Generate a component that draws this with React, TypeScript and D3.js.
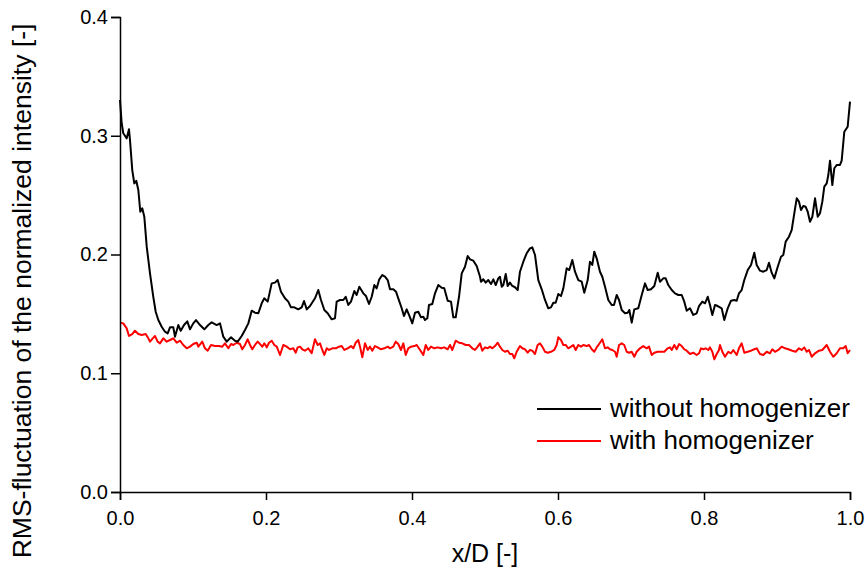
import { useEffect, useRef } from "react";
import * as d3 from "d3";

// without homogenizer (x/D, RMS)
const withoutX = [
  0, 0.0023, 0.0045, 0.0092, 0.0123, 0.0137, 0.0168, 0.0196, 0.0223, 0.0251, 0.0278, 0.0305, 0.0333, 0.0366,
  0.0411, 0.0456, 0.0489, 0.0525, 0.0571, 0.0616, 0.0653, 0.0685, 0.073, 0.0753, 0.0799, 0.0832, 0.0877, 0.0922,
  0.0959, 0.1004, 0.1041, 0.1096, 0.1155, 0.121, 0.1256, 0.1325, 0.137, 0.1415, 0.1462, 0.1521, 0.1575, 0.1612,
  0.1667, 0.1712, 0.1758, 0.1804, 0.1849, 0.1895, 0.1941, 0.1977, 0.2023, 0.2078, 0.2123, 0.216, 0.2205, 0.226,
  0.2305, 0.2342, 0.2388, 0.2442, 0.2489, 0.2521, 0.2558, 0.2603, 0.2671, 0.2716, 0.2753, 0.2799, 0.2845, 0.29,
  0.2945, 0.2968, 0.3014, 0.3059, 0.3092, 0.3127, 0.3164, 0.321, 0.3242, 0.3278, 0.3333, 0.337, 0.3411, 0.3448,
  0.3484, 0.3516, 0.3552, 0.3593, 0.363, 0.3667, 0.3699, 0.3744, 0.3781, 0.3812, 0.3859, 0.389, 0.3927, 0.3959,
  0.4004, 0.4041, 0.4086, 0.4123, 0.4155, 0.4178, 0.421, 0.4233, 0.4278, 0.4315, 0.436, 0.4407, 0.4442, 0.4489,
  0.4534, 0.4566, 0.4599, 0.4644, 0.4681, 0.4726, 0.4763, 0.4795, 0.484, 0.4886, 0.4932, 0.4945, 0.4977, 0.501,
  0.5045, 0.5082, 0.5114, 0.5147, 0.5182, 0.5205, 0.5229, 0.5251, 0.5284, 0.5311, 0.5342, 0.5374, 0.5411, 0.5448,
  0.5479, 0.5525, 0.5571, 0.5616, 0.5648, 0.5685, 0.573, 0.5777, 0.5822, 0.5867, 0.5904, 0.5936, 0.5968, 0.6004,
  0.6041, 0.6073, 0.6119, 0.6155, 0.6196, 0.6233, 0.6278, 0.6325, 0.636, 0.6407, 0.6438, 0.647, 0.6497, 0.653,
  0.6575, 0.6607, 0.6644, 0.6689, 0.6736, 0.6767, 0.6804, 0.6836, 0.6873, 0.6918, 0.6955, 0.6977, 0.701, 0.7045,
  0.71, 0.7147, 0.7192, 0.7229, 0.7274, 0.7319, 0.7366, 0.7397, 0.7442, 0.7475, 0.7511, 0.7558, 0.7603, 0.7648,
  0.7695, 0.773, 0.7763, 0.7808, 0.7853, 0.79, 0.7932, 0.7977, 0.8014, 0.8051, 0.8082, 0.8114, 0.8151, 0.8188,
  0.8219, 0.8242, 0.8278, 0.8325, 0.837, 0.8415, 0.8448, 0.8479, 0.8516, 0.8552, 0.8599, 0.8644, 0.8689, 0.8722,
  0.8767, 0.8812, 0.8859, 0.889, 0.8927, 0.8963, 0.901, 0.9055, 0.9086, 0.9119, 0.9164, 0.9201, 0.9237, 0.927,
  0.9301, 0.9329, 0.936, 0.9393, 0.9421, 0.9452, 0.9484, 0.9521, 0.9558, 0.9589, 0.9621, 0.9648, 0.9681, 0.9703,
  0.9726, 0.9758, 0.9785, 0.9818, 0.9863, 0.9886, 0.9922, 0.9968, 1.0,
];
const withoutY = [
  0.3301, 0.3105, 0.3021, 0.2978, 0.3054, 0.2964, 0.2711, 0.2599, 0.2621, 0.2543, 0.236, 0.2389, 0.2318, 0.2066,
  0.1841, 0.1644, 0.1518, 0.1448, 0.1392, 0.135, 0.1336, 0.1387, 0.1387, 0.1308, 0.1406, 0.1358, 0.1406, 0.1437,
  0.137, 0.142, 0.1448, 0.1406, 0.137, 0.1406, 0.1429, 0.1406, 0.142, 0.1308, 0.1266, 0.1303, 0.1274, 0.1266,
  0.1314, 0.1364, 0.142, 0.1527, 0.151, 0.1505, 0.1589, 0.1631, 0.1603, 0.1757, 0.1763, 0.1785, 0.1687, 0.1631,
  0.1603, 0.1555, 0.1555, 0.1538, 0.1555, 0.1608, 0.1538, 0.1566, 0.1631, 0.1701, 0.1617, 0.1533, 0.1505, 0.1454,
  0.1463, 0.1603, 0.1617, 0.1617, 0.1644, 0.1575, 0.1603, 0.1693, 0.1659, 0.1729, 0.1673, 0.165, 0.1583, 0.1644,
  0.1743, 0.1715, 0.1791, 0.1827, 0.1813, 0.1785, 0.1707, 0.1707, 0.1687, 0.1631, 0.1547, 0.1482, 0.1538, 0.1491,
  0.142, 0.151, 0.1518, 0.1471, 0.1476, 0.1448, 0.1463, 0.1575, 0.1583, 0.1673, 0.1743, 0.172, 0.1715, 0.1611,
  0.1603, 0.1471, 0.1471, 0.1644, 0.1841, 0.1897, 0.1987, 0.1959, 0.1948, 0.1903, 0.1813, 0.1771, 0.1791, 0.1763,
  0.1785, 0.1751, 0.1791, 0.1743, 0.1799, 0.1813, 0.1729, 0.1743, 0.1836, 0.1735, 0.1763, 0.1735, 0.1724, 0.1701,
  0.1855, 0.1939, 0.201, 0.2052, 0.206, 0.1996, 0.1785, 0.1707, 0.1617, 0.1547, 0.1555, 0.1594, 0.1594, 0.1667,
  0.165, 0.1715, 0.1884, 0.1869, 0.1954, 0.1855, 0.1785, 0.1771, 0.1678, 0.1785, 0.1939, 0.1912, 0.2024, 0.1968,
  0.1855, 0.1813, 0.1729, 0.1617, 0.1575, 0.1575, 0.1659, 0.1617, 0.1533, 0.1505, 0.151, 0.1533, 0.1426, 0.1538,
  0.1547, 0.1659, 0.1757, 0.1701, 0.1707, 0.1735, 0.1847, 0.1771, 0.1799, 0.1799, 0.1743, 0.1701, 0.1673, 0.1659,
  0.1659, 0.1603, 0.1527, 0.1547, 0.1491, 0.1505, 0.1566, 0.1603, 0.1589, 0.1644, 0.1575, 0.1491, 0.1575, 0.1566,
  0.1555, 0.1547, 0.1448, 0.1547, 0.1611, 0.1617, 0.1611, 0.1673, 0.1701, 0.1785, 0.1869, 0.1912, 0.2015, 0.1912,
  0.1864, 0.1855, 0.1869, 0.1931, 0.1847, 0.1799, 0.1897, 0.1981, 0.1996, 0.2108, 0.215, 0.2206, 0.2347, 0.2473,
  0.2445, 0.2375, 0.2408, 0.2402, 0.236, 0.2276, 0.2318, 0.2473, 0.2318, 0.2347, 0.2445, 0.2571, 0.2599, 0.2669,
  0.279, 0.2585, 0.2726, 0.2754, 0.2754, 0.279, 0.3034, 0.3076, 0.3287,
];

// with homogenizer (x/D, RMS)
const withX = [
  0, 0.0045, 0.0092, 0.0123, 0.0168, 0.0205, 0.0251, 0.0297, 0.0352, 0.0388, 0.0411, 0.0448, 0.0479, 0.0516,
  0.0548, 0.0593, 0.064, 0.0685, 0.073, 0.0777, 0.0822, 0.0867, 0.0914, 0.0959, 0.1004, 0.1051, 0.1073, 0.1127,
  0.1164, 0.1201, 0.1247, 0.1301, 0.1356, 0.1401, 0.1438, 0.1484, 0.1521, 0.1552, 0.1599, 0.1644, 0.1675, 0.1712,
  0.1749, 0.1781, 0.1812, 0.1849, 0.1886, 0.1918, 0.1949, 0.1977, 0.201, 0.2041, 0.2078, 0.2114, 0.2147, 0.2192,
  0.2237, 0.2284, 0.2329, 0.2374, 0.2407, 0.2434, 0.2466, 0.2497, 0.2534, 0.2579, 0.2626, 0.2671, 0.2708, 0.274,
  0.2771, 0.2799, 0.2832, 0.2863, 0.2908, 0.2955, 0.3, 0.3037, 0.3073, 0.3119, 0.3164, 0.3196, 0.3229, 0.3264,
  0.3288, 0.3319, 0.3356, 0.3393, 0.3425, 0.3456, 0.3493, 0.353, 0.3575, 0.3621, 0.3667, 0.3699, 0.3744, 0.3777,
  0.3812, 0.3849, 0.3881, 0.3914, 0.3949, 0.3986, 0.4032, 0.4064, 0.411, 0.4155, 0.4188, 0.4223, 0.426, 0.4305,
  0.4352, 0.4397, 0.4442, 0.4489, 0.4521, 0.4552, 0.4599, 0.4644, 0.4689, 0.4736, 0.4781, 0.4826, 0.4863, 0.49,
  0.4932, 0.4963, 0.5, 0.5037, 0.5068, 0.51, 0.5137, 0.5174, 0.5205, 0.5237, 0.5274, 0.5311, 0.5342, 0.5374,
  0.5401, 0.5434, 0.5479, 0.5511, 0.5548, 0.5585, 0.5616, 0.5648, 0.5685, 0.5721, 0.5753, 0.5785, 0.5822, 0.5859,
  0.5904, 0.5949, 0.5982, 0.6004, 0.6041, 0.6073, 0.6105, 0.6141, 0.6178, 0.621, 0.6242, 0.6278, 0.6315, 0.6347,
  0.6393, 0.6425, 0.6462, 0.6497, 0.653, 0.6575, 0.6607, 0.6644, 0.6681, 0.6712, 0.6744, 0.6781, 0.6804, 0.6836,
  0.6873, 0.6908, 0.6941, 0.6973, 0.701, 0.7045, 0.7078, 0.7123, 0.7168, 0.7215, 0.7247, 0.7284, 0.7319, 0.7366,
  0.7411, 0.7456, 0.7503, 0.7534, 0.7558, 0.7593, 0.7626, 0.7658, 0.7695, 0.773, 0.7763, 0.7808, 0.7853, 0.79,
  0.7932, 0.7959, 0.799, 0.8023, 0.8059, 0.8082, 0.8114, 0.8141, 0.8174, 0.8205, 0.8219, 0.8251, 0.8288, 0.8333,
  0.837, 0.8401, 0.8448, 0.8479, 0.8516, 0.8552, 0.8599, 0.8644, 0.8689, 0.8722, 0.8767, 0.8812, 0.8859, 0.8904,
  0.8936, 0.8973, 0.9018, 0.9064, 0.911, 0.9155, 0.921, 0.9256, 0.9301, 0.9338, 0.9374, 0.9407, 0.9438, 0.9475,
  0.9521, 0.9575, 0.9621, 0.9681, 0.9726, 0.9771, 0.9818, 0.9863, 0.9908, 0.9941, 0.9968, 1.0,
];
const withY = [
  0.1426, 0.142, 0.1378, 0.1314, 0.133, 0.1358, 0.133, 0.1322, 0.133, 0.1294, 0.1266, 0.1294, 0.1314, 0.1266,
  0.1252, 0.1294, 0.1266, 0.128, 0.1294, 0.1257, 0.1274, 0.1238, 0.121, 0.1224, 0.1246, 0.1257, 0.1224, 0.1266,
  0.121, 0.119, 0.1238, 0.1229, 0.1229, 0.1224, 0.1252, 0.121, 0.1246, 0.1238, 0.1257, 0.1246, 0.1202, 0.1238,
  0.1286, 0.1238, 0.1202, 0.1238, 0.1266, 0.1246, 0.1224, 0.1252, 0.1218, 0.1257, 0.1274, 0.1238, 0.1224, 0.1154,
  0.1238, 0.1224, 0.1202, 0.121, 0.1173, 0.1218, 0.1224, 0.1202, 0.119, 0.121, 0.1168, 0.1286, 0.1238, 0.1252,
  0.1196, 0.1154, 0.121, 0.1196, 0.121, 0.121, 0.1224, 0.1229, 0.1196, 0.121, 0.1229, 0.121, 0.1257, 0.128,
  0.1224, 0.1134, 0.1252, 0.1196, 0.1224, 0.119, 0.1229, 0.1218, 0.1202, 0.121, 0.1224, 0.121, 0.1224, 0.1266,
  0.1246, 0.1196, 0.1252, 0.1154, 0.121, 0.1224, 0.1229, 0.1238, 0.1196, 0.1154, 0.1238, 0.1196, 0.1224, 0.121,
  0.1218, 0.121, 0.1218, 0.1202, 0.1238, 0.1196, 0.1274, 0.1257, 0.1252, 0.1238, 0.1238, 0.121, 0.1196, 0.1224,
  0.1252, 0.119, 0.1218, 0.121, 0.1224, 0.121, 0.1229, 0.1257, 0.1224, 0.1196, 0.1181, 0.119, 0.1162, 0.1162,
  0.1126, 0.1181, 0.1229, 0.121, 0.1202, 0.1173, 0.1196, 0.119, 0.1162, 0.1238, 0.1252, 0.1224, 0.1181, 0.1173,
  0.1181, 0.1196, 0.1238, 0.1303, 0.128, 0.1238, 0.1238, 0.121, 0.1224, 0.1238, 0.1196, 0.1238, 0.1224, 0.1238,
  0.1229, 0.1238, 0.1202, 0.1181, 0.1218, 0.1257, 0.1286, 0.121, 0.1218, 0.1202, 0.1196, 0.1181, 0.1139, 0.1238,
  0.1252, 0.1238, 0.1181, 0.1173, 0.1181, 0.1139, 0.1181, 0.121, 0.1229, 0.121, 0.1224, 0.1154, 0.1173, 0.1181,
  0.1181, 0.1181, 0.121, 0.1218, 0.1196, 0.1238, 0.1202, 0.1246, 0.1229, 0.1202, 0.119, 0.1162, 0.1173, 0.1154,
  0.1168, 0.121, 0.1202, 0.121, 0.1196, 0.1218, 0.1181, 0.1117, 0.1162, 0.1196, 0.1238, 0.1181, 0.1139, 0.1181,
  0.1168, 0.1196, 0.1154, 0.121, 0.1252, 0.1173, 0.1181, 0.119, 0.1202, 0.121, 0.1162, 0.1154, 0.1181, 0.1168,
  0.1202, 0.1181, 0.1196, 0.1224, 0.121, 0.1202, 0.119, 0.1181, 0.121, 0.1196, 0.1218, 0.1181, 0.1196, 0.1139,
  0.1168, 0.119, 0.1196, 0.1238, 0.1181, 0.1139, 0.1168, 0.121, 0.121, 0.1229, 0.1168, 0.1196,
];

const xTicks = [0, 0.2, 0.4, 0.6, 0.8, 1.0];
const yTicks = [0, 0.1, 0.2, 0.3, 0.4];
const legendLabels = ["without homogenizer", "with homogenizer"];
const seriesColors = ["#000000", "#ff0000"];

const FONT = "Arial, 'Liberation Sans', sans-serif";

function renderChart(element: SVGSVGElement) {
  const svg = d3.select(element);
  svg.selectAll("*").remove();

  const x = d3.scaleLinear().domain([0, 1]).range([120, 850]);
  const y = d3.scaleLinear().domain([0, 0.4]).range([492, 17]);

  const series = [
    withoutX.map((v, i) => [v, withoutY[i]] as [number, number]),
    withX.map((v, i) => [v, withY[i]] as [number, number]),
  ];

  const line = d3
    .line<[number, number]>()
    .x((d) => x(d[0]))
    .y((d) => y(d[1]));

  // curves (red under black)
  [1, 0].forEach((k) => {
    svg
      .append("path")
      .datum(series[k])
      .attr("fill", "none")
      .attr("stroke", seriesColors[k])
      .attr("stroke-width", 2)
      .attr("stroke-linejoin", "round")
      .attr("d", line);
  });

  // X axis
  const xAxis = svg.append("g").attr("transform", `translate(0,${y(0)})`);
  xAxis.call(
    d3
      .axisBottom(x)
      .tickValues(d3.range(0, 1.01, 0.1))
      .tickSize(5)
      .tickFormat(() => "")
  );
  xAxis
    .call(d3.axisBottom(x).tickValues(xTicks).tickSize(8).tickFormat(d3.format(".1f")))
    .call((g) =>
      g
        .selectAll("text")
        .attr("font-size", 20)
        .attr("font-family", FONT)
        .attr("fill", "#000")
        .attr("y", 26)
        .attr("dy", "0.35em")
    );
  xAxis.selectAll("path").attr("stroke", "#000").attr("stroke-width", 1.5);
  xAxis.selectAll("line").attr("stroke", "#000").attr("stroke-width", 1.5);

  // Y axis
  const yAxis = svg.append("g").attr("transform", `translate(${x(0)},0)`);
  yAxis.call(
    d3
      .axisLeft(y)
      .tickValues(d3.range(0, 0.401, 0.05))
      .tickSize(5)
      .tickFormat(() => "")
  );
  yAxis
    .call(d3.axisLeft(y).tickValues(yTicks).tickSize(9).tickFormat(d3.format(".1f")))
    .call((g) => g.selectAll("text").attr("font-size", 20).attr("font-family", FONT).attr("fill", "#000"));
  yAxis.selectAll("path").attr("stroke", "#000").attr("stroke-width", 1.5);
  yAxis.selectAll("line").attr("stroke", "#000").attr("stroke-width", 1.5);

  // axis titles
  svg
    .append("text")
    .attr("x", 485)
    .attr("y", 562)
    .attr("text-anchor", "middle")
    .attr("font-family", FONT)
    .attr("font-size", 25)
    .text("x/D [-]");

  svg
    .append("text")
    .attr("transform", `translate(31,${(17 + 565) / 2}) rotate(-90)`)
    .attr("text-anchor", "middle")
    .attr("font-family", FONT)
    .attr("font-size", 26.5)
    .text("RMS-fluctuation of the normalized intensity [-]");

  // legend
  legendLabels.forEach((label, i) => {
    const ly = 409 + i * 32;
    svg
      .append("line")
      .attr("x1", 537)
      .attr("x2", 601)
      .attr("y1", ly)
      .attr("y2", ly)
      .attr("stroke", seriesColors[i])
      .attr("stroke-width", 2);
    svg
      .append("text")
      .attr("x", 610)
      .attr("y", ly + 8)
      .attr("font-family", FONT)
      .attr("font-size", 26)
      .text(label);
  });
}

export default function App() {
  const ref = useRef<SVGSVGElement>(null);
  useEffect(() => {
    if (ref.current) renderChart(ref.current);
  }, []);
  return (
    <div style={{ position: "absolute", left: 0, top: 0, background: "#fff" }}>
      <svg ref={ref} width={865} height={571} style={{ display: "block" }} />
    </div>
  );
}
